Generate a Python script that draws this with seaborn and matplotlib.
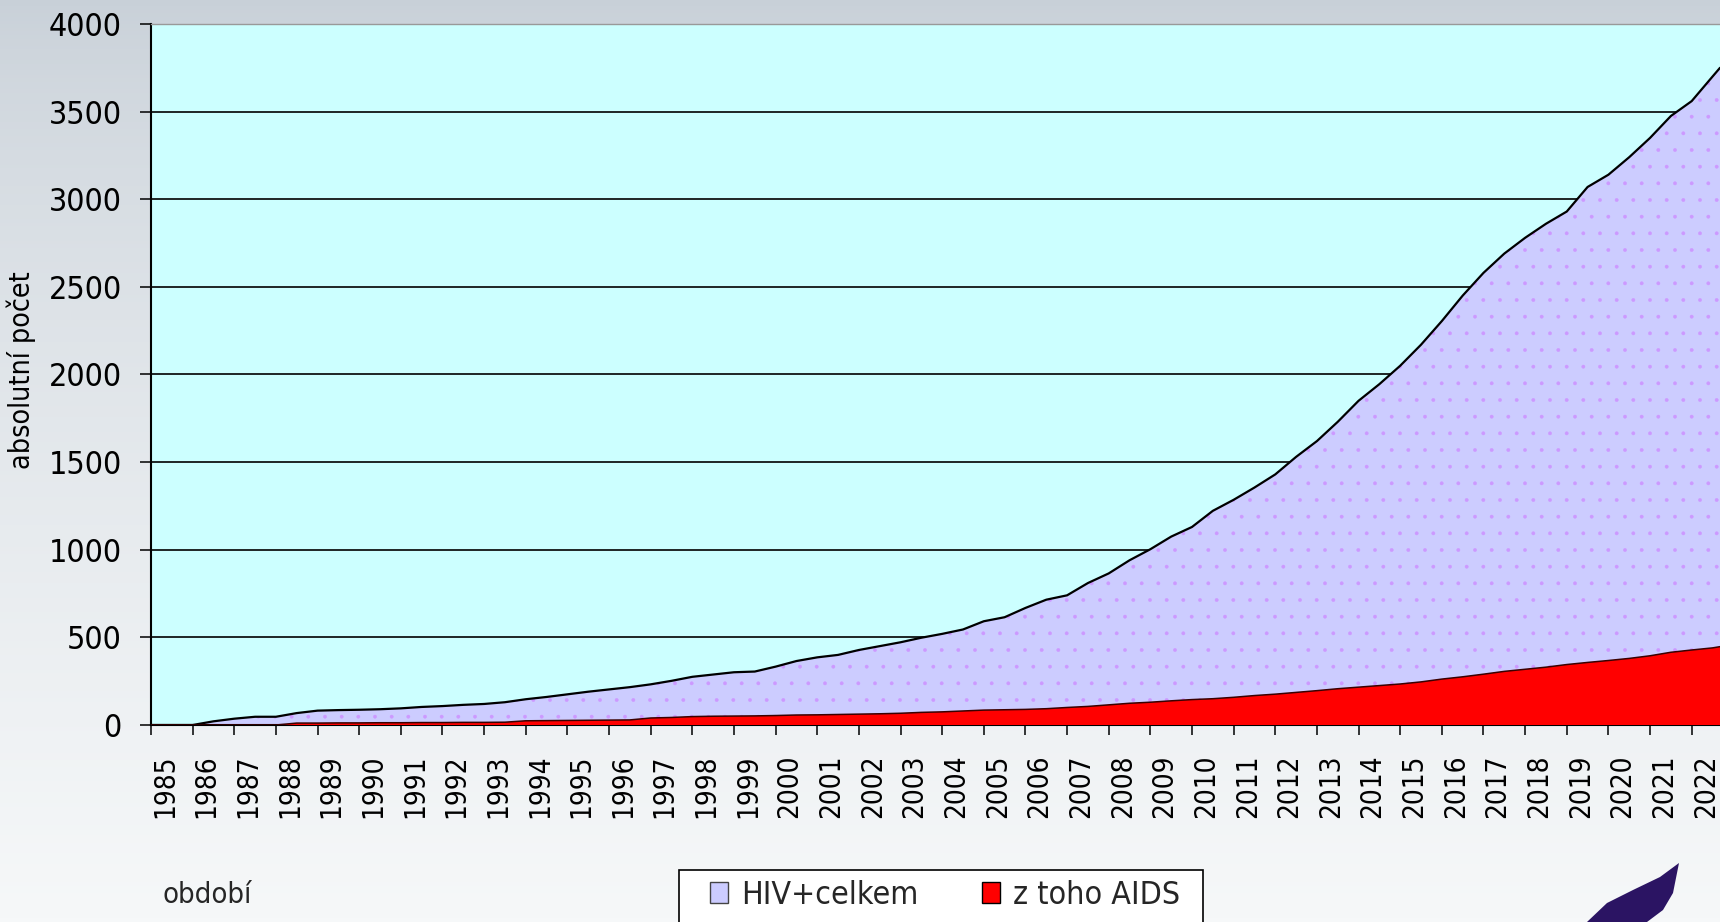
import numpy as np
import pandas as pd
import seaborn as sns
import matplotlib.pyplot as plt
import matplotlib.patches as mpatches
from matplotlib.colors import to_rgb

# half-year readings (cumulative counts)
period = [1985.0, 1985.5, 1986.0, 1986.5, 1987.0, 1987.5, 1988.0, 1988.5, 1989.0, 1989.5,
          1990.0, 1990.5, 1991.0, 1991.5, 1992.0, 1992.5, 1993.0, 1993.5, 1994.0, 1994.5,
          1995.0, 1995.5, 1996.0, 1996.5, 1997.0, 1997.5, 1998.0, 1998.5, 1999.0, 1999.5,
          2000.0, 2000.5, 2001.0, 2001.5, 2002.0, 2002.5, 2003.0, 2003.5, 2004.0, 2004.5,
          2005.0, 2005.5, 2006.0, 2006.5, 2007.0, 2007.5, 2008.0, 2008.5, 2009.0, 2009.5,
          2010.0, 2010.5, 2011.0, 2011.5, 2012.0, 2012.5, 2013.0, 2013.5, 2014.0, 2014.5,
          2015.0, 2015.5, 2016.0, 2016.5, 2017.0, 2017.5, 2018.0, 2018.5, 2019.0, 2019.5,
          2020.0, 2020.5, 2021.0, 2021.5, 2022.0, 2022.5, 2022.68]

hiv_total = [0, 0, 0, 21, 36, 47, 47, 68, 82, 85,
             87, 90, 95, 103, 108, 115, 120, 130, 147, 160,
             175, 190, 203, 216, 232, 252, 275, 288, 301, 305,
             333, 365, 386, 400, 428, 450, 472, 498, 520, 545,
             592, 615, 668, 715, 740, 810, 865, 940, 1003, 1075,
             1130, 1222, 1285, 1355, 1430, 1530, 1620, 1730, 1850, 1945,
             2050, 2170, 2305, 2450, 2580, 2690, 2780, 2860, 2930, 3070,
             3140, 3240, 3350, 3475, 3560, 3700, 3750]

aids = [0, 0, 0, 0, 0, 0, 0, 11, 11, 12,
        12, 13, 13, 14, 14, 15, 15, 16, 24, 25,
        26, 27, 28, 29, 40, 43, 48, 50, 51, 52,
        54, 57, 58, 60, 62, 64, 67, 72, 75, 80,
        85, 87, 89, 93, 100, 106, 115, 124, 130, 138,
        145, 150, 158, 168, 176, 186, 196, 207, 216, 225,
        234, 246, 262, 275, 290, 306, 318, 330, 345, 357,
        368, 380, 395, 415, 428, 440, 447]

year_ticks = list(range(1985, 2023))
value_ticks = list(range(0, 4001, 500))

df = pd.DataFrame({"obdobi": period, "hiv": hiv_total, "aids": aids})

sns.set_theme(style="white")
plt.rcParams['font.family'] = ['DejaVu Sans']
plt.rcParams['font.stretch'] = 'condensed'
plt.rcParams['hatch.linewidth'] = 0.3

W, H = 1720, 922
fig = plt.figure(figsize=(W / 100, H / 100), dpi=100)

# background gradient
bg = fig.add_axes([0, 0, 1, 1], zorder=-10)
top_c = np.array(to_rgb('#c8d0d8'))
bot_c = np.array(to_rgb('#f6f8f9'))
t = np.linspace(0, 1, 256) ** 0.7
grad = top_c[None, :] * (1 - t[:, None]) + bot_c[None, :] * t[:, None]
bg.imshow(grad[:, None, :], aspect='auto', extent=[0, 1, 0, 1])
bg.axis('off')

ax = fig.add_axes([151 / W, 197 / H, (W - 151) / W, 701 / H])
ax.set_facecolor('#ccffff')

ax.fill_between(df["obdobi"], 0, df["hiv"], facecolor='#ccccff', edgecolor='#cc99ff',
                hatch='.', linewidth=0, zorder=2)
ax.fill_between(df["obdobi"], 0, df["aids"], facecolor='#ff0000', edgecolor='none',
                linewidth=0, zorder=3)
sns.lineplot(data=df, x="obdobi", y="hiv", ax=ax, color='black', lw=1.6, zorder=4)
sns.lineplot(data=df, x="obdobi", y="aids", ax=ax, color='#3a0000', lw=1.1, zorder=4)

ax.set_xlim(1985, 2022.68)
ax.set_ylim(0, 4000)
ax.set_xticks(year_ticks)
ax.set_yticks(value_ticks)
ax.set_xticklabels([str(y) for y in year_ticks])
ax.set_xlabel('')
ax.set_ylabel('absolutní počet', fontsize=20.5, color='black')
ax.yaxis.set_label_coords(-0.0733, 0.506)

ax.set_axisbelow(True)
ax.yaxis.grid(True, color='black', lw=1.2)
ax.xaxis.grid(False)

for s in ['left', 'bottom']:
    ax.spines[s].set_color('black')
    ax.spines[s].set_linewidth(1.5)
ax.spines['top'].set_color('#999999')
ax.spines['top'].set_linewidth(1.0)
ax.spines['right'].set_visible(False)

ax.tick_params(axis='y', direction='out', left=True, length=8, width=1.1, pad=13,
               labelsize=23, color='black', labelcolor='black')
ax.tick_params(axis='x', direction='out', bottom=True, length=7, width=1.1, pad=14,
               labelsize=20, color='black', labelcolor='black', labelrotation=90)
for lbl in ax.get_xticklabels():
    lbl.set_ha('left')
    lbl.set_va('top')

fig.text(162 / W, 1 - 895 / H, 'období', fontsize=21, ha='left', va='center')

# legend box (runs past the bottom edge as in the original)
fig.add_artist(mpatches.Rectangle((679 / W, -0.02), (1203 - 679) / W, 0.02 + 52 / H,
                                  facecolor='white', edgecolor='black', lw=1.2,
                                  transform=fig.transFigure, zorder=5))
handles = [mpatches.Patch(facecolor='#ccccff', edgecolor='#444444', lw=1),
           mpatches.Patch(facecolor='#ff0000', edgecolor='black', lw=1)]
leg = fig.legend(handles, ['HIV+celkem', 'z toho AIDS'], loc='center left',
                 bbox_to_anchor=(710 / W, 1 - 895 / H), bbox_transform=fig.transFigure,
                 ncol=2, frameon=False, fontsize=23, handlelength=0.56, handleheight=0.63,
                 handletextpad=0.4, columnspacing=2.0, borderpad=0, borderaxespad=0)
leg.set_zorder(6)

# logo swoosh in bottom right corner
logo_px = [(1587, 922), (1607, 903), (1633, 890), (1660, 877), (1679, 863),
           (1673, 893), (1663, 910), (1647, 922)]
fig.add_artist(mpatches.Polygon([(x / W, 1 - y / H) for x, y in logo_px], closed=True,
                                facecolor='#2b1463', edgecolor='none',
                                transform=fig.transFigure))

fig.savefig('out.png', dpi=100)
